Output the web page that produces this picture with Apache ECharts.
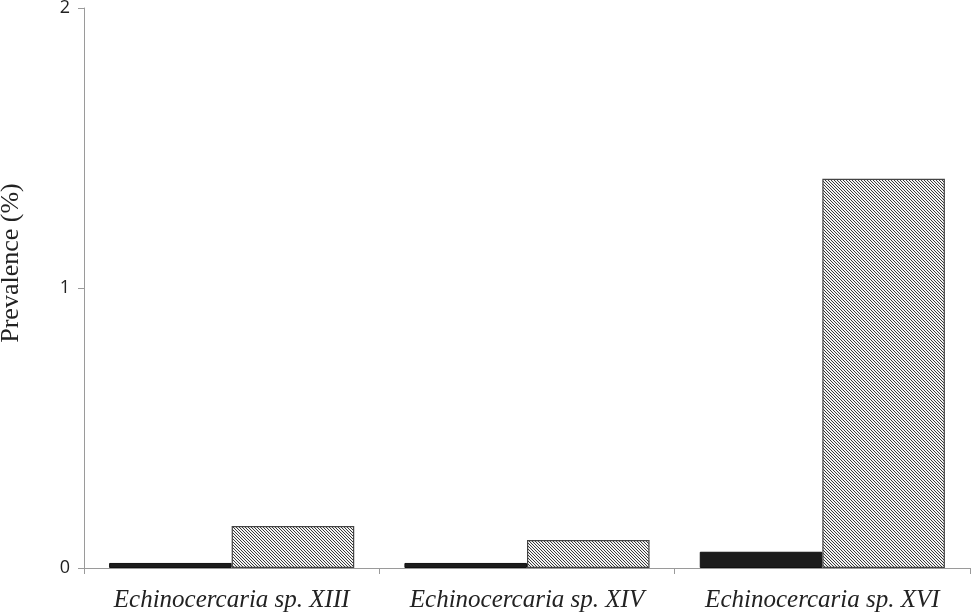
<!DOCTYPE html>
<html>
<head>
<meta charset="utf-8">
<script src="https://cdn.jsdelivr.net/npm/echarts@6/dist/echarts.min.js"></script>
<style>
  html, body { margin: 0; padding: 0; background: #fff; }
  #main { width: 973px; height: 614px; }
</style>
</head>
<body>
<div id="main"></div>
<script>
var categories = ['Echinocercaria sp. XIII', 'Echinocercaria sp. XIV', 'Echinocercaria sp. XVI'];
var solidValues = [0.018, 0.018, 0.058];
var hatchValues = [0.15, 0.10, 1.39];
var yTicks = [0, 1, 2];

// diagonal hatch tile for the second series
function makeHatch() {
    var c = document.createElement('canvas');
    c.width = 3;
    c.height = 3;
    var ctx = c.getContext('2d');
    ctx.fillStyle = '#f4f4f4';
    ctx.fillRect(0, 0, 3, 3);
    ctx.fillStyle = '#3a3a3a';
    for (var i = 0; i < 3; i++) {
        ctx.fillRect(i, i, 1, 1);
    }
    return c;
}

var chart = echarts.init(document.getElementById('main'));

var option = {
    animation: false,
    backgroundColor: '#ffffff',
    grid: {
        left: 84,
        right: 3,
        top: 8,
        bottom: 46,
        containLabel: false,
        outerBoundsMode: 'none'
    },
    xAxis: {
        type: 'category',
        data: categories,
        axisLine: { lineStyle: { color: '#9a9a9a', width: 1 } },
        axisTick: { show: true, length: 6, lineStyle: { color: '#9a9a9a' } },
        axisLabel: {
            interval: 0,
            hideOverlap: false,
            color: '#222',
            fontFamily: 'Liberation Serif',
            fontStyle: 'italic',
            fontSize: 25,
            margin: 20
        }
    },
    yAxis: {
        type: 'value',
        min: yTicks[0],
        max: yTicks[yTicks.length - 1],
        interval: 1,
        name: 'Prevalence (%)',
        nameLocation: 'middle',
        nameGap: 60,
        nameTextStyle: {
            color: '#222',
            fontFamily: 'Liberation Serif',
            fontSize: 26,
            padding: [0, 0, 0, 50]
        },
        axisLine: { show: true, lineStyle: { color: '#9a9a9a', width: 1 } },
        axisTick: { show: true, length: 6, lineStyle: { color: '#9a9a9a' } },
        splitLine: { show: false },
        axisLabel: {
            color: '#222',
            fontFamily: 'Open Sans',
            fontSize: 18,
            margin: 14
        }
    },
    series: [
        {
            name: 'solid',
            type: 'bar',
            data: solidValues,
            barGap: '0%',
            barCategoryGap: '17%',
            itemStyle: {
                color: '#1c1c1c',
                borderColor: '#111',
                borderWidth: 1
            }
        },
        {
            name: 'hatched',
            type: 'bar',
            data: hatchValues,
            itemStyle: {
                color: { image: makeHatch(), repeat: 'repeat' },
                borderColor: '#444',
                borderWidth: 1.2
            }
        }
    ]
};

chart.setOption(option);
</script>
</body>
</html>
